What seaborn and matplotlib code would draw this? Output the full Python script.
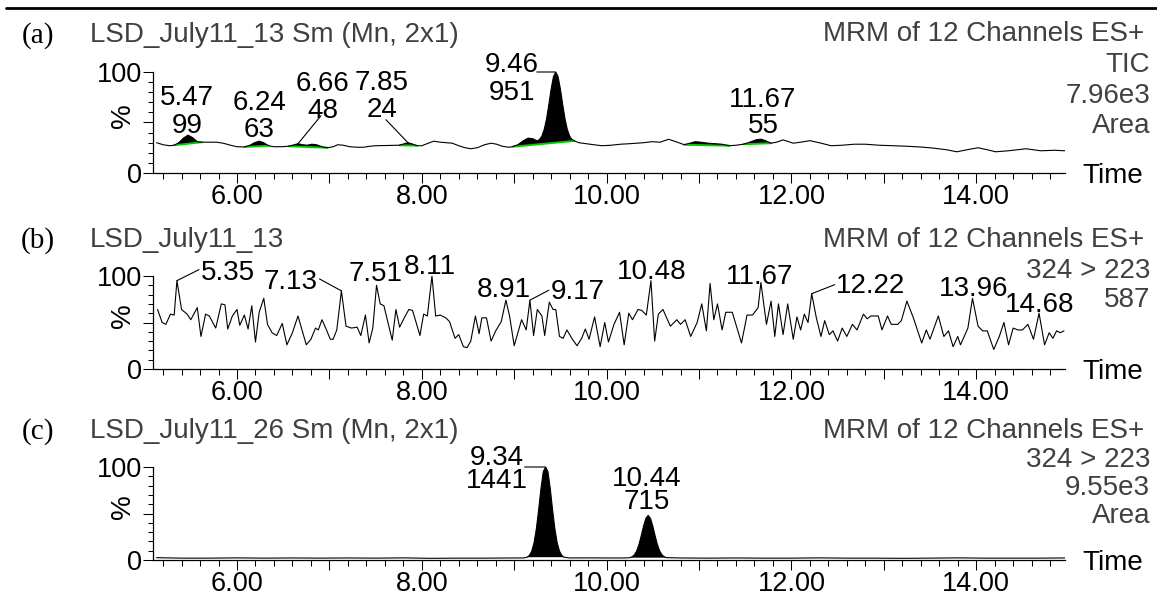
import matplotlib
matplotlib.use("Agg")
import matplotlib.pyplot as plt
import seaborn as sns
import pandas as pd
from matplotlib.ticker import FixedLocator, MultipleLocator, FuncFormatter
from matplotlib.lines import Line2D

# ---------------- data ----------------
# (a) TIC, smoothed
a_time = [5.13, 5.20, 5.27, 5.32, 5.37, 5.42, 5.47, 5.52, 5.57, 5.62,
          5.70, 5.78, 5.85, 5.93, 6.00, 6.08, 6.14, 6.19, 6.24, 6.29,
          6.34, 6.40, 6.48, 6.56, 6.62, 6.66, 6.71, 6.76, 6.81, 6.86,
          6.92, 6.98, 7.04, 7.09, 7.15, 7.22, 7.30, 7.37, 7.44, 7.50,
          7.60, 7.70, 7.76, 7.81, 7.85, 7.89, 7.95, 8.00, 8.07, 8.13,
          8.20, 8.27, 8.33, 8.40, 8.47, 8.53, 8.60, 8.68, 8.75, 8.81,
          8.87, 8.94, 8.98, 9.04, 9.10, 9.15, 9.20, 9.25, 9.275, 9.30,
          9.325, 9.35, 9.375, 9.40, 9.425, 9.45, 9.475, 9.50, 9.525, 9.55,
          9.575, 9.60, 9.625, 9.65, 9.70, 9.78, 9.86, 9.95, 10.05, 10.15,
          10.25, 10.32, 10.40, 10.49, 10.58, 10.67, 10.75, 10.84, 10.90, 10.96,
          11.02, 11.10, 11.18, 11.25, 11.33, 11.40, 11.48, 11.55, 11.62, 11.67,
          11.72, 11.78, 11.84, 11.91, 11.97, 12.02, 12.10, 12.20, 12.30, 12.43,
          12.55, 12.68, 12.80, 12.95, 13.09, 13.25, 13.42, 13.55, 13.68, 13.79,
          13.90, 14.02, 14.12, 14.21, 14.35, 14.45, 14.54, 14.62, 14.70, 14.85, 14.96]
a_pct = [30, 28, 27, 27.5, 30, 34.5, 37.5, 35, 31, 30.5,
         30.5, 30.5, 29.5, 27.5, 26, 25.8, 27.5, 30, 31.5, 30,
         27, 26, 26, 26.5, 28, 29, 28, 27.5, 28.5, 28,
         26, 25, 26, 28, 27.5, 26, 25.5, 25.5, 26.5, 27,
         27.2, 27.3, 27.5, 29, 30, 29, 27, 27, 29.5, 31.5,
         30.5, 30, 29.5, 27, 25, 24, 25, 28, 29.5, 28.5,
         26.5, 25.5, 26, 28, 32, 34.5, 34, 31.8, 33.3, 36.6,
         43.1, 53.6, 67.9, 83.2, 95.4, 100, 95.4, 83.2, 67.9, 53.6,
         43.1, 36.6, 33.3, 31.8, 30, 29, 28, 27, 27.5, 28.5,
         29, 29.5, 30, 31, 30.5, 33.4, 31, 28, 29.5, 31,
         30.5, 29.5, 29, 28.5, 27, 27.5, 28.5, 30.5, 33, 33.5,
         32, 29.5, 30.5, 32.8, 31, 29.5, 30.5, 32, 30, 27,
         27.5, 28.5, 28.5, 27.5, 27, 26.5, 25.6, 24.5, 23, 21,
         23, 25, 23, 21, 22, 23, 24, 23, 22, 22.5, 22]
a_peak_times = [5.47, 6.24, 6.66, 7.85, 9.46, 11.67]
a_peak_areas = [99, 63, 48, 24, 951, 55]
a_integration_start = [5.32, 6.08, 6.56, 7.76, 8.98, 10.84, 11.48]
a_integration_end = [5.62, 6.34, 6.98, 7.95, 9.65, 11.33, 11.78]

# (b) 324 > 223, raw
b_time = [5.14, 5.19, 5.23, 5.28, 5.32, 5.35, 5.40, 5.46, 5.50, 5.57,
          5.61, 5.66, 5.70, 5.77, 5.83, 5.87, 5.90, 5.95, 6.00, 6.03,
          6.08, 6.12, 6.16, 6.20, 6.24, 6.29, 6.33, 6.38, 6.43, 6.49,
          6.54, 6.60, 6.66, 6.75, 6.80, 6.85, 6.88, 6.92, 6.96, 7.01,
          7.04, 7.08, 7.13, 7.18, 7.24, 7.30, 7.34, 7.39, 7.43, 7.47,
          7.51, 7.55, 7.59, 7.68, 7.72, 7.76, 7.81, 7.86, 7.90, 7.98,
          8.02, 8.06, 8.11, 8.15, 8.20, 8.26, 8.30, 8.36, 8.40, 8.45,
          8.49, 8.53, 8.58, 8.62, 8.65, 8.70, 8.75, 8.80, 8.86, 8.91,
          8.95, 9.00, 9.08, 9.13, 9.17, 9.21, 9.25, 9.30, 9.33, 9.38,
          9.42, 9.45, 9.49, 9.53, 9.57, 9.63, 9.68, 9.73, 9.77, 9.81,
          9.87, 9.93, 9.98, 10.02, 10.08, 10.14, 10.19, 10.24, 10.28, 10.34,
          10.38, 10.43, 10.48, 10.52, 10.56, 10.61, 10.69, 10.76, 10.80, 10.85,
          10.91, 10.98, 11.03, 11.08, 11.12, 11.16, 11.20, 11.25, 11.29, 11.36,
          11.46, 11.52, 11.58, 11.64, 11.67, 11.73, 11.78, 11.82, 11.86, 11.91,
          11.96, 12.02, 12.06, 12.10, 12.14, 12.18, 12.22, 12.27, 12.32, 12.36,
          12.41, 12.45, 12.50, 12.55, 12.60, 12.66, 12.71, 12.78, 12.82, 12.86,
          12.94, 12.98, 13.04, 13.08, 13.15, 13.19, 13.25, 13.32, 13.41, 13.46,
          13.50, 13.59, 13.65, 13.70, 13.75, 13.80, 13.83, 13.91, 13.96, 14.02,
          14.07, 14.12, 14.19, 14.25, 14.30, 14.35, 14.40, 14.45, 14.50, 14.56,
          14.62, 14.68, 14.74, 14.79, 14.83, 14.87, 14.91, 14.95]
b_pct = [64, 50, 48, 59, 58, 95, 64, 59, 53, 66,
         35, 59, 57, 44, 70, 69, 43, 57, 64, 47,
         58, 43, 68, 29, 61, 76, 48, 39, 36, 49,
         26, 39, 57, 26, 32, 44, 42, 53, 44, 32,
         32, 42, 84, 46, 44, 45, 36, 58, 28, 44,
         90, 70, 68, 31, 64, 45, 55, 64, 63, 36,
         59, 57, 100, 57, 58, 55, 51, 33, 37, 24,
         23, 30, 57, 38, 55, 55, 30, 41, 51, 74,
         57, 25, 53, 42, 74, 36, 64, 57, 36, 72,
         64, 64, 35, 33, 42, 32, 25, 33, 43, 32,
         56, 24, 50, 29, 48, 61, 26, 60, 53, 64,
         63, 58, 95, 30, 59, 64, 46, 53, 48, 53,
         35, 50, 70, 41, 92, 53, 70, 42, 61, 61,
         28, 58, 58, 66, 93, 48, 73, 35, 70, 37,
         70, 32, 56, 42, 59, 50, 81, 55, 35, 52,
         37, 41, 30, 44, 35, 48, 42, 59, 54, 57,
         57, 42, 57, 48, 48, 52, 73, 55, 28, 42,
         32, 57, 35, 41, 24, 35, 26, 44, 76, 46,
         41, 41, 21, 35, 50, 26, 44, 42, 42, 48,
         32, 60, 26, 39, 33, 41, 39, 41]
b_peak_times = [5.35, 7.13, 7.51, 8.11, 8.91, 9.17, 10.48, 11.67, 12.22, 13.96, 14.68]

# (c) 324 > 223, smoothed
c_time = [5.13, 5.40, 5.70, 6.00, 6.30, 6.60, 6.90, 7.20, 7.50, 7.80,
          8.10, 8.40, 8.70, 9.00, 9.10, 9.14, 9.165, 9.19, 9.215, 9.24,
          9.265, 9.29, 9.315, 9.34, 9.365, 9.39, 9.415, 9.44, 9.465, 9.49,
          9.515, 9.54, 9.60, 9.80, 10.00, 10.20, 10.25, 10.275, 10.30, 10.325,
          10.35, 10.375, 10.40, 10.425, 10.45, 10.475, 10.50, 10.525, 10.55, 10.575,
          10.60, 10.625, 10.65, 10.80, 11.10, 11.40, 11.70, 12.00, 12.30, 12.60,
          12.90, 13.20, 13.50, 13.80, 14.10, 14.40, 14.70, 14.96]
c_pct = [2.5, 2.0, 2.0, 2.3, 2.0, 2.2, 2.0, 2.2, 2.0, 2.3,
         1.8, 2.0, 2.0, 2.2, 2.2, 3.0, 5.0, 9.6, 18.6, 33.7,
         54.4, 77.1, 95.1, 100, 95.1, 77.1, 54.4, 33.7, 18.6, 9.6,
         5.0, 3.0, 2.2, 2.3, 2.2, 2.2, 2.5, 3.4, 5.5, 9.6,
         16.6, 26.1, 36.5, 44.8, 48, 44.8, 36.5, 26.1, 16.6, 9.6,
         5.5, 3.4, 2.5, 2.2, 2.0, 2.2, 2.0, 2.0, 2.3, 2.0,
         2.0, 1.8, 2.0, 2.3, 2.0, 2.0, 2.0, 2.2]
c_peak_times = [9.34, 10.44]
c_peak_areas = [1441, 715]
c_integration_start = [9.14, 10.25]
c_integration_end = [9.54, 10.65]

# ---------------- layout / style ----------------
W, H, DPI = 1157, 596, 100
X0, X1 = 153, 1065                 # axis extent in px
XLIM = (5.091, 14.961)
PANELS = {"a": (72, 173), "b": (276, 369), "c": (467, 560)}   # top(100%), bottom(0%) px
FS = 20
TFS = 19.5
GRAY = "#404040"
GREEN = "#00c800"

sns.set_theme(style="white")
plt.rcParams["font.family"] = ["Liberation Sans", "DejaVu Sans"]
plt.rcParams["axes.linewidth"] = 0.9

fig = plt.figure(figsize=(W / DPI, H / DPI), dpi=DPI)
fig.patch.set_facecolor("white")


def fx(px):
    return px / W


def fy(py):
    return 1 - py / H


def make_ax(key):
    top, bot = PANELS[key]
    ax = fig.add_axes([fx(X0), fy(bot), fx(X1 - X0), (bot - top) / H])
    ax.set_facecolor("none")
    ax.set_xlim(*XLIM)
    ax.set_ylim(0, 100)
    for s in ("top", "right"):
        ax.spines[s].set_visible(False)
    for s in ("left", "bottom"):
        ax.spines[s].set_color("black")
        ax.spines[s].set_linewidth(0.9)
    ax.xaxis.set_major_locator(FixedLocator(list(range(6, 15))))
    ax.xaxis.set_major_formatter(FuncFormatter(lambda v, p: f"{v:.2f}" if int(round(v)) % 2 == 0 else ""))
    ax.xaxis.set_minor_locator(MultipleLocator(0.2))
    ax.yaxis.set_major_locator(FixedLocator([0, 50, 100]))
    ax.yaxis.set_major_formatter(FuncFormatter(lambda v, p: {0: "0", 100: "100"}.get(int(round(v)), "")))
    ax.yaxis.set_minor_locator(MultipleLocator(10))
    ax.tick_params(axis="x", which="major", direction="out", length=7.4, width=0.75,
                   colors="black", labelsize=TFS, pad=0.2, bottom=True)
    ax.tick_params(axis="x", which="minor", direction="out", length=4.3, width=0.75,
                   colors="black", bottom=True)
    ax.tick_params(axis="y", which="major", direction="out", length=7.2, width=0.75,
                   colors="black", labelsize=TFS, pad=0.5, left=True)
    ax.tick_params(axis="y", which="minor", direction="out", length=3.6, width=0.75,
                   colors="black", left=True)
    ax.set_xlabel("")
    ax.set_ylabel("")
    ax.grid(False)
    ax.annotate("%", xy=(0, 0.57), xycoords="axes fraction", xytext=(-30, 0),
                textcoords="offset pixels", rotation=90, ha="center", va="center",
                fontsize=FS, color="black")
    ax.annotate("Time", xy=(1, 0), xycoords="axes fraction", xytext=(17, 0),
                textcoords="offset pixels", ha="left", va="center_baseline",
                fontsize=FS, color="black", annotation_clip=False)
    return ax


def nearest(times, t):
    return min(range(len(times)), key=lambda i: abs(times[i] - t))


def txt(ax, t, v, s, dx, dy, ha="center"):
    ax.annotate(s, xy=(t, v), xytext=(dx, dy), textcoords="offset pixels", ha=ha,
                va="center_baseline", fontsize=FS, color="black", annotation_clip=False)


def txt2(ax, t, v, s, dx, dy1, dy2):
    # two-line peak label (time over area); dy1/dy2 are the visual centres of the lines
    ls = (dy1 - dy2) / 26.0
    ax.annotate(s, xy=(t, v), xytext=(dx, (dy1 + dy2) / 2 - 3), textcoords="offset pixels",
                ha="center", va="center", multialignment="center", linespacing=ls,
                fontsize=FS, color="black", annotation_clip=False)


def leader(ax, t, v, dx, dy):
    ax.annotate("", xy=(t, v), xytext=(dx, dy), textcoords="offset pixels",
                arrowprops=dict(arrowstyle="-", color="black", lw=0.8, shrinkA=0, shrinkB=0),
                annotation_clip=False)


def filled_peaks(ax, times, vals, starts, ends, baseline_color=None):
    for s, e in zip(starts, ends):
        idx = [i for i, t in enumerate(times) if s - 1e-9 <= t <= e + 1e-9]
        ts = [times[i] for i in idx]
        vs = [vals[i] for i in idx]
        ax.fill(ts, vs, color="black", lw=0, zorder=2)
        if baseline_color:
            ax.plot([ts[0], ts[-1]], [vs[0], vs[-1]], color=baseline_color, lw=1.4, zorder=3)


def trace(ax, times, vals):
    df = pd.DataFrame({"Time": times, "pct": vals})
    sns.lineplot(data=df, x="Time", y="pct", ax=ax, color="black", lw=0.8,
                 estimator=None, sort=False, zorder=4)
    ax.set_xlabel("")
    ax.set_ylabel("")


# top rule
fig.add_artist(Line2D([fx(6), 1.0], [fy(8), fy(8)], transform=fig.transFigure,
                      color="black", lw=2.0))

# ---------- panel (a) ----------
ax_a = make_ax("a")
filled_peaks(ax_a, a_time, a_pct, a_integration_start, a_integration_end, GREEN)
trace(ax_a, a_time, a_pct)
a_label_layout = {  # dx, dy of time line, dy of area line, leader end or bracket
    5.47: (-1, 40, 12, None),
    6.24: (0, 41, 14, None),
    6.66: (25, 63, 35, (23, 28)),
    7.85: (-26, 63, 35, (-22, 23)),
    9.46: (-44, 10, -18, "bracket"),
    11.67: (2, 42, 16, None),
}
for t, area in zip(a_peak_times, a_peak_areas):
    i = nearest(a_time, t)
    pt, pv = a_time[i], a_pct[i]
    dx, dy1, dy2, ld = a_label_layout[t]
    txt2(ax_a, pt, pv, f"{t:.2f}\n{area}", dx, dy1, dy2)
    if ld == "bracket":
        leader(ax_a, pt, pv, -19, 0)
    elif ld is not None:
        leader(ax_a, pt, pv, ld[0], ld[1])

# ---------- panel (b) ----------
ax_b = make_ax("b")
trace(ax_b, b_time, b_pct)
b_label_layout = {  # dx, dy, ha, leader end
    5.35: (24, 11, "left", (22, 11)),
    7.13: (-24, 12, "right", (-22, 12)),
    7.51: (-1, 14, "center", None),
    8.11: (-2, 12, "center", None),
    8.91: (-2, 13, "center", None),
    9.17: (21, 11, "left", (19, 10)),
    10.48: (1, 12, "center", None),
    11.67: (-1, 9, "center", None),
    12.22: (24, 11, "left", (23, 9)),
    13.96: (1, 12, "center", None),
    14.68: (1, 11, "center", None),
}
for t in b_peak_times:
    i = nearest(b_time, t)
    pt, pv = b_time[i], b_pct[i]
    dx, dy, ha, ld = b_label_layout[t]
    txt(ax_b, pt, pv, f"{t:.2f}", dx, dy, ha=ha)
    if ld is not None:
        leader(ax_b, pt, pv, ld[0], ld[1])

# ---------- panel (c) ----------
ax_c = make_ax("c")
filled_peaks(ax_c, c_time, c_pct, c_integration_start, c_integration_end)
trace(ax_c, c_time, c_pct)
c_label_layout = {
    9.34: (-49, 12, -11, "bracket"),
    10.44: (-1, 39, 17, None),
}
for t, area in zip(c_peak_times, c_peak_areas):
    i = nearest(c_time, t)
    pt, pv = c_time[i], c_pct[i]
    dx, dy1, dy2, ld = c_label_layout[t]
    txt2(ax_c, pt, pv, f"{t:.2f}\n{area}", dx, dy1, dy2)
    if ld == "bracket":
        leader(ax_c, pt, pv, -21, 0)

# ---------- header texts ----------
headers = [
    ("(a)", "LSD_July11_13 Sm (Mn, 2x1)", 32, ["MRM of 12 Channels ES+", "TIC", "7.96e3", "Area"], [31, 62, 93, 123]),
    ("(b)", "LSD_July11_13", 237, ["MRM of 12 Channels ES+", "324 > 223", "587"], [237, 268, 297]),
    ("(c)", "LSD_July11_26 Sm (Mn, 2x1)", 428, ["MRM of 12 Channels ES+", "324 > 223", "9.55e3", "Area"], [428, 457, 485, 513]),
]
for tag, title, ty, rlines, rys in headers:
    fig.text(fx(38), fy(ty), tag, ha="center", va="center_baseline", fontsize=21,
             family=["Liberation Serif", "DejaVu Serif"], color="black")
    fig.text(fx(90), fy(ty), title, ha="left", va="center_baseline", fontsize=FS, color=GRAY)
    for k, (s, yy) in enumerate(zip(rlines, rys)):
        xr = 1144 if k == 0 else 1150
        fig.text(fx(xr), fy(yy), s, ha="right", va="center_baseline", fontsize=FS, color=GRAY)

fig.savefig("out.png", dpi=DPI, facecolor="white")
